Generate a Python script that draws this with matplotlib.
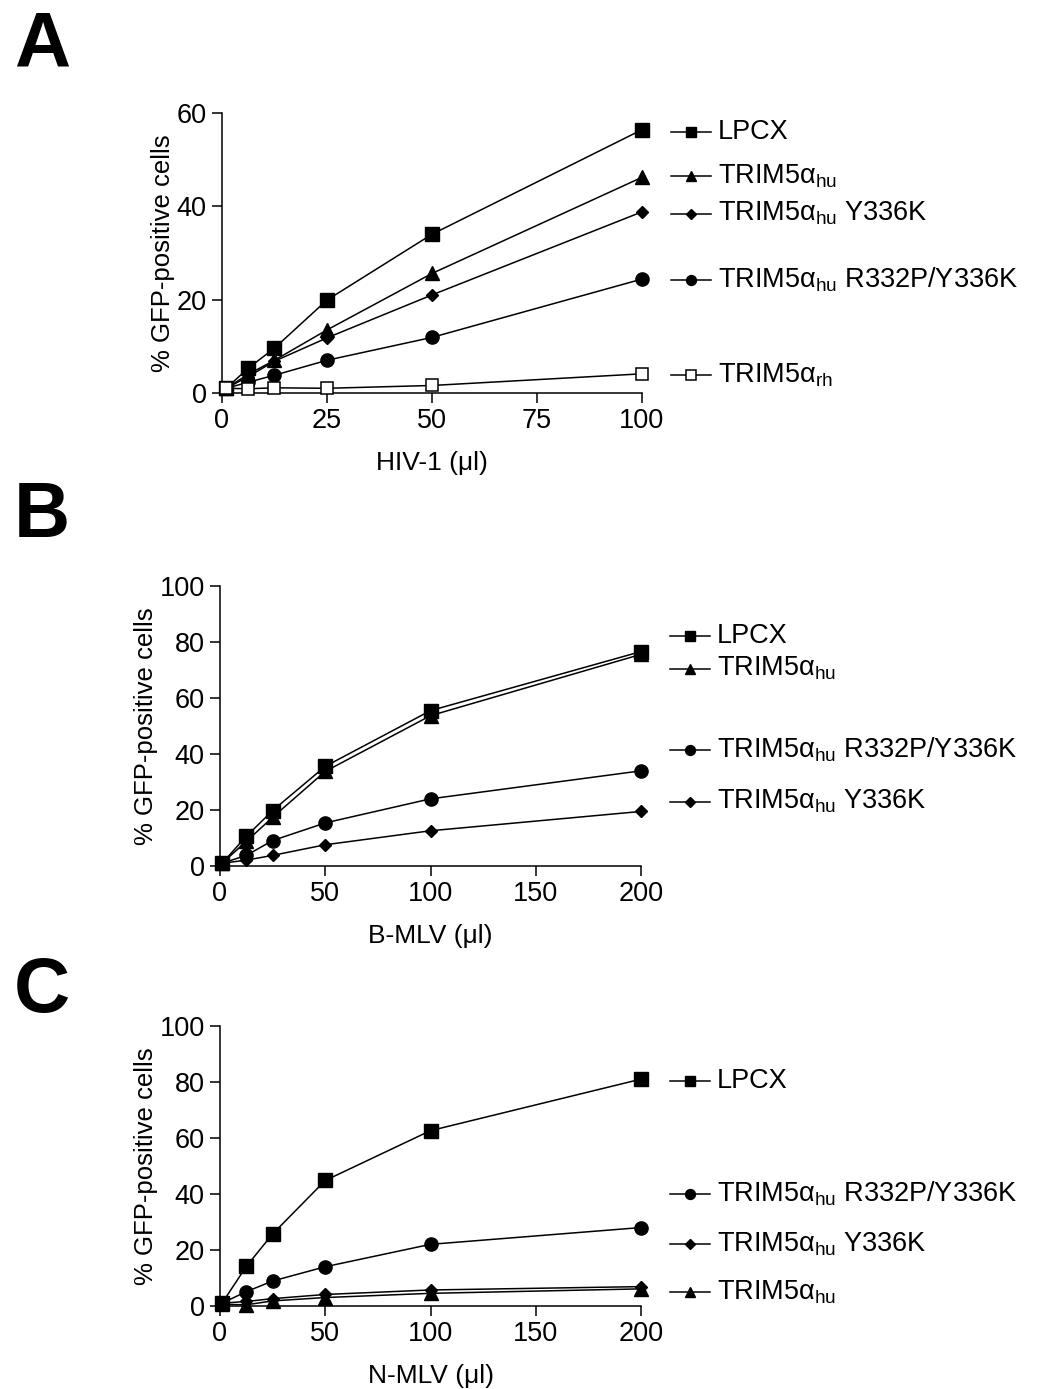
import numpy as np
import matplotlib
matplotlib.use("Agg")
import matplotlib.pyplot as plt
import matplotlib.transforms as mtransforms

plt.rcParams['font.family'] = ['Liberation Sans', 'DejaVu Sans']
plt.rcParams['mathtext.fontset'] = 'custom'
plt.rcParams['mathtext.rm'] = 'Liberation Sans'
plt.rcParams['mathtext.it'] = 'Liberation Sans'

# ---- data ----
hu = r'TRIM5$\alpha_{\mathrm{hu}}$'
rh = r'TRIM5$\alpha_{\mathrm{rh}}$'

# panel A : HIV-1
a_x = [1, 6.25, 12.5, 25, 50, 100]
a_lpcx = [1.0, 5.3, 9.6, 19.9, 34.0, 56.4]
a_hu = [1.0, 4.0, 7.0, 13.5, 25.6, 46.2]
a_y336k = [1.0, 3.5, 6.8, 11.8, 21.0, 38.8]
a_r332p = [1.0, 2.3, 3.8, 7.0, 11.9, 24.4]
a_rh = [1.0, 0.9, 1.1, 1.0, 1.6, 4.1]

# panel B : B-MLV
b_x = [1, 12.5, 25, 50, 100, 200]
b_lpcx = [1.0, 10.6, 19.8, 35.6, 55.5, 76.6]
b_hu = [1.0, 8.8, 17.4, 33.8, 53.7, 75.6]
b_r332p = [1.0, 3.8, 9.1, 15.4, 24.0, 34.0]
b_y336k = [1.0, 2.1, 3.8, 7.6, 12.6, 19.5]

# panel C : N-MLV
c_x = [1, 12.5, 25, 50, 100, 200]
c_lpcx = [1.0, 14.1, 25.7, 44.8, 62.6, 81.0]
c_r332p = [1.0, 5.1, 8.9, 14.0, 22.0, 28.0]
c_y336k = [1.0, 1.6, 2.6, 4.1, 5.7, 6.9]
c_hu = [0.6, 0.4, 1.8, 3.0, 4.5, 6.1]

styles = {
    'lpcx': dict(marker='s', ms=9.5, mfc='black', mec='black'),
    'hu': dict(marker='^', ms=9.5, mfc='black', mec='black'),
    'y336k': dict(marker='D', ms=6.5, mfc='black', mec='black'),
    'r332p': dict(marker='o', ms=9.5, mfc='black', mec='black'),
    'rh': dict(marker='s', ms=9, mfc='white', mec='black', mew=1.1),
}
names = {
    'lpcx': 'LPCX',
    'hu': hu,
    'y336k': hu + ' Y336K',
    'r332p': hu + ' R332P/Y336K',
    'rh': rh,
}

panels = [
    dict(letter='A', rect=[0.2114, 0.7171, 0.400, 0.2016], x=a_x, xlim=100,
         xticks=[0, 25, 50, 75, 100], ylim=60, yticks=[0, 20, 40, 60],
         xlabel='HIV-1 (\u03bcl)',
         series=[('lpcx', a_lpcx), ('hu', a_hu), ('y336k', a_y336k),
                 ('r332p', a_r332p), ('rh', a_rh)],
         legend_y={'lpcx': 56.0, 'hu': 46.4, 'y336k': 38.4, 'r332p': 24.2, 'rh': 3.8},
         letter_y=10),
    dict(letter='B', rect=[0.2095, 0.3765, 0.401, 0.2016], x=b_x, xlim=200,
         xticks=[0, 50, 100, 150, 200], ylim=100, yticks=[0, 20, 40, 60, 80, 100],
         xlabel='B-MLV (\u03bcl)',
         series=[('lpcx', b_lpcx), ('hu', b_hu), ('r332p', b_r332p), ('y336k', b_y336k)],
         legend_y={'lpcx': 82.0, 'hu': 70.5, 'r332p': 41.5, 'y336k': 23.0},
         letter_y=480),
    dict(letter='C', rect=[0.2095, 0.0598, 0.401, 0.2016], x=c_x, xlim=200,
         xticks=[0, 50, 100, 150, 200], ylim=100, yticks=[0, 20, 40, 60, 80, 100],
         xlabel='N-MLV (\u03bcl)',
         series=[('lpcx', c_lpcx), ('r332p', c_r332p), ('y336k', c_y336k), ('hu', c_hu)],
         legend_y={'lpcx': 80.5, 'r332p': 40.0, 'y336k': 22.0, 'hu': 5.0},
         letter_y=955),
]

fig = plt.figure(figsize=(10.5, 13.89), dpi=100)

for p in panels:
    ax = fig.add_axes(p['rect'])
    for key, vals in p['series']:
        ax.plot(p['x'], vals, color='black', lw=1.1, clip_on=False, zorder=3,
                **styles[key])
    ax.set_xlim(0, p['xlim'])
    ax.set_ylim(0, p['ylim'])
    ax.set_xticks(p['xticks'])
    ax.set_yticks(p['yticks'])
    ax.spines['top'].set_visible(False)
    ax.spines['right'].set_visible(False)
    for s in ['left', 'bottom']:
        ax.spines[s].set_linewidth(1.1)
    ax.tick_params(direction='out', length=7, width=1.1, labelsize=19.5, pad=4)
    ax.set_xlabel(p['xlabel'], fontsize=19, labelpad=12)
    ax.set_ylabel('% GFP-positive cells', fontsize=18.5, labelpad=1)

    # legend, placed next to the end of each curve
    tr = mtransforms.blended_transform_factory(ax.transAxes, ax.transData)
    for key, vals in p['series']:
        ly = p['legend_y'][key]
        st = dict(styles[key])
        st['ms'] = st['ms'] * 0.75
        ax.plot([1.07, 1.165], [ly, ly], color='black', lw=1.1, transform=tr,
                clip_on=False, zorder=3)
        ax.plot([1.1175], [ly], color='black', transform=tr, clip_on=False,
                linestyle='none', zorder=4, **st)
        ax.text(1.18, ly, names[key], transform=tr, fontsize=19.5,
                va='center', ha='left')

    fig.text(14 / 1050, 1 - p['letter_y'] / 1389, p['letter'], fontsize=56,
             fontweight='bold', va='top', ha='left')

fig.savefig('out.png', dpi=100)
